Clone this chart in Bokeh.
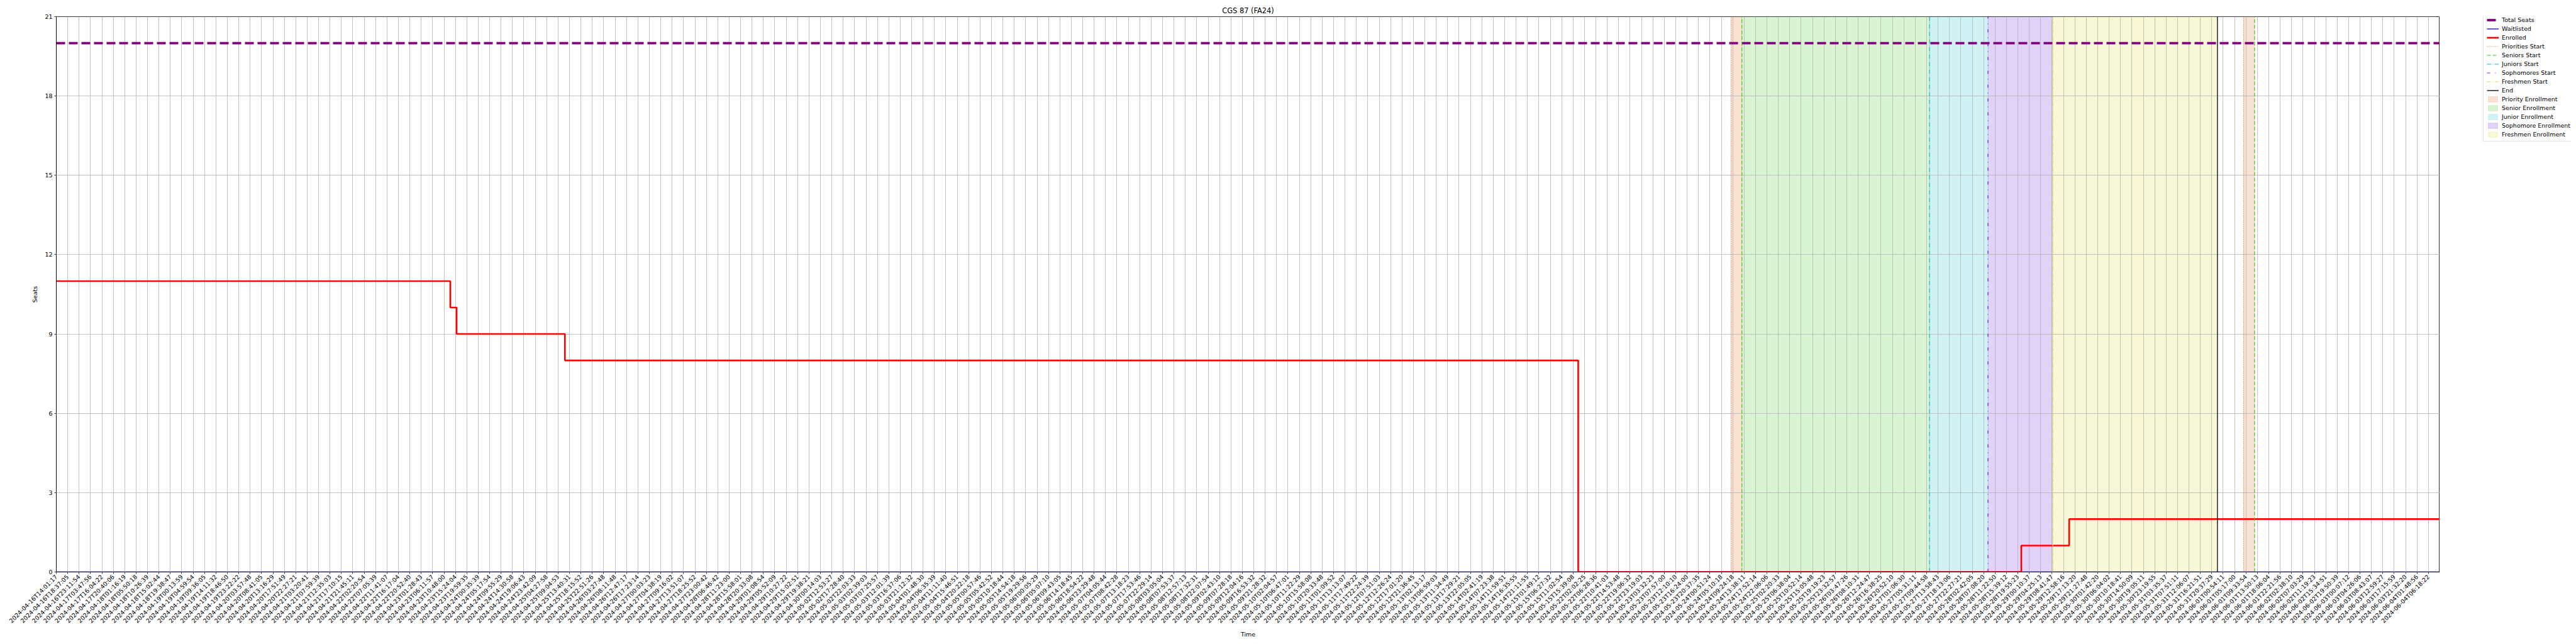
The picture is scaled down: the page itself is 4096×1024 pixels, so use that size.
import math
from bokeh.plotting import figure
from bokeh.layouts import row
from bokeh.models import Range1d, FixedTicker, Legend, LegendItem
from bokeh.embed import file_html
from bokeh.resources import INLINE

TITLE = "CGS 87 (FA24)"

TIME_LABELS = [
    "2024-04-16T14:01:17", "2024-04-16T18:37:05", "2024-04-16T23:11:54", "2024-04-17T03:47:56",
    "2024-04-17T16:04:22", "2024-04-17T20:40:06", "2024-04-18T01:16:19", "2024-04-18T05:50:18",
    "2024-04-18T10:26:39", "2024-04-18T15:02:44", "2024-04-18T19:38:47", "2024-04-19T00:13:59",
    "2024-04-19T04:59:54", "2024-04-19T09:36:05", "2024-04-19T14:11:32", "2024-04-19T18:46:50",
    "2024-04-19T23:22:22", "2024-04-20T03:57:48", "2024-04-20T08:41:05", "2024-04-20T13:16:29",
    "2024-04-20T17:51:49", "2024-04-20T22:27:21", "2024-04-21T03:20:41", "2024-04-21T07:59:39",
    "2024-04-21T12:35:03", "2024-04-21T17:10:15", "2024-04-21T21:45:11", "2024-04-22T02:20:54",
    "2024-04-22T07:05:39", "2024-04-22T11:41:07", "2024-04-22T16:17:04", "2024-04-22T20:52:40",
    "2024-04-23T01:28:43", "2024-04-23T06:11:57", "2024-04-23T10:48:00", "2024-04-23T15:24:04",
    "2024-04-23T19:59:35", "2024-04-24T00:35:39", "2024-04-24T05:17:54", "2024-04-24T09:55:29",
    "2024-04-24T14:30:58", "2024-04-24T19:06:43", "2024-04-24T23:42:09", "2024-04-25T04:27:58",
    "2024-04-25T09:04:53", "2024-04-25T13:40:31", "2024-04-25T18:15:52", "2024-04-25T22:51:26",
    "2024-04-26T03:27:48", "2024-04-26T08:11:48", "2024-04-26T12:47:17", "2024-04-26T17:23:14",
    "2024-04-27T00:03:23", "2024-04-27T04:38:19", "2024-04-27T09:16:02", "2024-04-27T13:51:07",
    "2024-04-27T18:25:52", "2024-04-27T23:00:42", "2024-04-28T06:46:42", "2024-04-28T11:23:00",
    "2024-04-28T15:58:01", "2024-04-28T20:33:08", "2024-04-29T01:08:54", "2024-04-29T05:52:09",
    "2024-04-29T10:27:22", "2024-04-29T15:02:51", "2024-04-29T19:38:21", "2024-04-30T00:14:03",
    "2024-05-02T12:53:27", "2024-05-02T17:28:40", "2024-05-02T22:03:33", "2024-05-03T02:39:03",
    "2024-05-03T07:25:57", "2024-05-03T12:01:39", "2024-05-03T16:37:06", "2024-05-03T21:12:32",
    "2024-05-04T01:48:30", "2024-05-04T06:35:39", "2024-05-04T11:11:40", "2024-05-04T15:46:51",
    "2024-05-04T20:22:18", "2024-05-05T00:57:46", "2024-05-05T05:42:52", "2024-05-05T10:18:44",
    "2024-05-05T14:54:18", "2024-05-05T19:29:56", "2024-05-06T00:05:29", "2024-05-06T05:07:10",
    "2024-05-06T09:43:05", "2024-05-06T14:18:45", "2024-05-06T18:54:22", "2024-05-06T23:29:48",
    "2024-05-07T04:05:44", "2024-05-07T08:42:28", "2024-05-07T13:18:23", "2024-05-07T17:53:46",
    "2024-05-07T22:29:14", "2024-05-08T03:05:04", "2024-05-08T07:53:37", "2024-05-08T12:57:13",
    "2024-05-08T17:32:31", "2024-05-08T22:07:54", "2024-05-09T02:43:10", "2024-05-09T07:28:18",
    "2024-05-09T12:04:16", "2024-05-09T16:53:32", "2024-05-09T21:28:32", "2024-05-10T02:04:57",
    "2024-05-10T06:47:01", "2024-05-10T11:22:29", "2024-05-10T15:58:08", "2024-05-10T20:33:48",
    "2024-05-11T01:09:52", "2024-05-11T13:13:07", "2024-05-11T17:49:22", "2024-05-11T22:24:39",
    "2024-05-12T07:51:03", "2024-05-12T12:26:24", "2024-05-12T17:01:20", "2024-05-12T21:36:45",
    "2024-05-13T02:13:17", "2024-05-13T06:59:03", "2024-05-13T11:34:49", "2024-05-13T17:29:21",
    "2024-05-13T22:05:05", "2024-05-14T02:41:19", "2024-05-14T07:23:38", "2024-05-14T11:59:51",
    "2024-05-14T16:35:55", "2024-05-14T21:11:55", "2024-05-15T01:49:12", "2024-05-15T06:27:32",
    "2024-05-15T11:02:54", "2024-05-15T15:39:08", "2024-05-22T02:02:25", "2024-05-22T06:28:36",
    "2024-05-22T10:41:03", "2024-05-22T14:53:48", "2024-05-22T19:06:32", "2024-05-22T23:19:03",
    "2024-05-23T03:32:23", "2024-05-23T07:57:00", "2024-05-23T12:10:10", "2024-05-23T16:24:00",
    "2024-05-23T20:37:35", "2024-05-24T00:51:24", "2024-05-24T05:10:18", "2024-05-24T09:24:18",
    "2024-05-24T13:38:11", "2024-05-24T17:52:14", "2024-05-24T22:06:06", "2024-05-25T02:20:33",
    "2024-05-25T06:38:04", "2024-05-25T10:52:14", "2024-05-25T15:05:48", "2024-05-25T19:19:23",
    "2024-05-25T23:32:57", "2024-05-26T03:47:26", "2024-05-26T08:10:31", "2024-05-26T12:24:47",
    "2024-05-26T16:38:25", "2024-05-26T20:52:10", "2024-05-27T01:06:30", "2024-05-27T05:31:11",
    "2024-05-27T09:44:58", "2024-05-27T13:58:43", "2024-05-27T18:13:06", "2024-05-27T22:27:21",
    "2024-05-28T02:42:05", "2024-05-28T07:08:20", "2024-05-28T11:22:50", "2024-05-28T15:39:12",
    "2024-05-28T19:55:23", "2024-05-29T00:10:37", "2024-05-29T04:25:13", "2024-05-29T08:41:47",
    "2024-05-29T12:58:16", "2024-05-29T17:13:20", "2024-05-29T21:27:48", "2024-05-30T01:42:20",
    "2024-05-30T06:04:02", "2024-05-30T10:18:41", "2024-05-30T14:50:09", "2024-05-30T19:05:11",
    "2024-05-30T23:19:55", "2024-05-31T03:35:37", "2024-05-31T07:51:11", "2024-05-31T12:06:07",
    "2024-05-31T16:21:51", "2024-05-31T20:37:29", "2024-06-01T00:54:11", "2024-06-01T05:17:00",
    "2024-06-01T09:33:54", "2024-06-01T13:50:13", "2024-06-01T18:06:04", "2024-06-01T22:21:56",
    "2024-06-02T02:38:10", "2024-06-02T07:03:29", "2024-06-02T11:19:23", "2024-06-02T15:34:51",
    "2024-06-02T19:50:39", "2024-06-03T00:07:12", "2024-06-03T04:26:06", "2024-06-03T08:43:07",
    "2024-06-03T12:59:27", "2024-06-03T17:15:59", "2024-06-03T21:32:20", "2024-06-04T01:48:56",
    "2024-06-04T06:18:22",
]

Y_TICKS = [0, 3, 6, 9, 12, 15, 18, 21]
X_END = 209.0          # last sample position (in label-index units)
TOTAL_SEATS = 20

# Enrolled: change points (label-index position, seats)
ENROLLED_X = [0.0, 34.55, 35.1, 44.6, 133.45, 172.3, 176.5, 209.0]
ENROLLED_Y = [11, 10, 9, 8, 0, 1, 2, 2]

WAITLIST_X = [0.0, 209.0]
WAITLIST_Y = [0, 0]

PRIORITY_STARTS = [146.85, 191.8]
SENIOR_STARTS = [147.8, 192.75]
JUNIOR_STARTS = [164.26]
SOPHOMORE_STARTS = [169.38]
FRESHMEN_STARTS = [175.06]
END_POSITIONS = [189.5]

PRIORITY_SPANS = [(PRIORITY_STARTS[0], SENIOR_STARTS[0]), (PRIORITY_STARTS[1], SENIOR_STARTS[1])]
SENIOR_SPANS = [(SENIOR_STARTS[0], JUNIOR_STARTS[0])]
JUNIOR_SPANS = [(JUNIOR_STARTS[0], SOPHOMORE_STARTS[0])]
SOPHOMORE_SPANS = [(SOPHOMORE_STARTS[0], FRESHMEN_STARTS[0])]
FRESHMEN_SPANS = [(FRESHMEN_STARTS[0], END_POSITIONS[0])]

LEGEND_LABELS = [
    "Total Seats", "Waitlisted", "Enrolled", "Priorities Start", "Seniors Start",
    "Juniors Start", "Sophomores Start", "Freshmen Start", "End",
    "Priority Enrollment", "Senior Enrollment", "Junior Enrollment",
    "Sophomore Enrollment", "Freshmen Enrollment",
]

C_PRIORITY = "#e0692a"
C_SENIOR = "#3ec81e"
C_JUNIOR = "#14bcc8"
C_SOPH = "#6a1fd8"
C_FRESH = "#dcdc30"

FONT = "DejaVu Sans"
Y_MAX = 21

# ---------------- main plot ----------------
p = figure(width=3879, height=1016,
           x_range=Range1d(0, X_END), y_range=Range1d(0, Y_MAX),
           output_backend="svg", toolbar_location=None, title=TITLE,
           min_border_left=89, min_border_right=0,
           min_border_top=26, min_border_bottom=103)

p.background_fill_color = "white"
p.border_fill_color = "white"
p.outline_line_color = "black"
p.outline_line_width = 0.8
p.outline_line_alpha = 1.0

p.title.align = "center"
p.title.text_font = FONT
p.title.text_font_size = "11.4px"
p.title.text_font_style = "normal"
p.title.text_color = "black"
p.title.standoff = 5

xt = FixedTicker(ticks=list(range(len(TIME_LABELS))))
yt = FixedTicker(ticks=Y_TICKS)
p.xaxis.ticker = xt
p.yaxis.ticker = yt
p.xgrid.ticker = xt
p.ygrid.ticker = yt
p.xaxis.major_label_overrides = {i: s for i, s in enumerate(TIME_LABELS)}
p.xaxis.major_label_orientation = math.pi / 4
p.xaxis.axis_label = "Time"
p.yaxis.axis_label = "Seats"

for ax in (p.xaxis[0], p.yaxis[0]):
    ax.major_label_text_font = FONT
    ax.major_label_text_font_size = "9.5px"
    ax.major_label_text_color = "black"
    ax.axis_label_text_font = FONT
    ax.axis_label_text_font_size = "9.5px"
    ax.axis_label_text_font_style = "normal"
    ax.axis_label_text_color = "black"
    ax.major_tick_out = 3
    ax.major_tick_in = 0
    ax.minor_tick_out = 0
    ax.minor_tick_in = 0
    ax.axis_line_width = 0.8
    ax.major_tick_line_width = 0.8
    ax.axis_line_color = "black"
    ax.major_tick_line_color = "black"
    ax.major_label_standoff = 3

p.xaxis.axis_label_standoff = 3
p.yaxis.axis_label_standoff = 7

p.grid.grid_line_color = "#b0b0b0"
p.grid.grid_line_width = 0.75


def spans(fig, pairs, color):
    return fig.quad(left=[a for a, b in pairs], right=[b for a, b in pairs],
                    bottom=[0] * len(pairs), top=[Y_MAX] * len(pairs),
                    fill_color=color, fill_alpha=0.2, line_color=color,
                    line_alpha=0.2, line_width=0.7, level="image")


def vlines(fig, xs, color, dash, width=1.2):
    return fig.segment(x0=xs, y0=[0] * len(xs), x1=xs, y1=[Y_MAX] * len(xs),
                       line_color=color, line_width=width, line_dash=dash)


def draw_all(fig, dummy=False):
    # dummy=True: same styles, data placed outside the visible range (legend swatches only)
    def d(v, alt):
        return alt if dummy else v
    rs = {}
    rs["Priority Enrollment"] = spans(fig, d(PRIORITY_SPANS, [(-5, -4)]), C_PRIORITY)
    rs["Senior Enrollment"] = spans(fig, d(SENIOR_SPANS, [(-5, -4)]), C_SENIOR)
    rs["Junior Enrollment"] = spans(fig, d(JUNIOR_SPANS, [(-5, -4)]), C_JUNIOR)
    rs["Sophomore Enrollment"] = spans(fig, d(SOPHOMORE_SPANS, [(-5, -4)]), C_SOPH)
    rs["Freshmen Enrollment"] = spans(fig, d(FRESHMEN_SPANS, [(-5, -4)]), C_FRESH)
    rs["Total Seats"] = fig.line(d([0, X_END], [-5, -4]), [TOTAL_SEATS, TOTAL_SEATS],
                                 line_color="#800080", line_width=3.8, line_dash="14 6")
    rs["Waitlisted"] = fig.line(d(WAITLIST_X, [-5, -4]), WAITLIST_Y,
                                line_color="#0000ff", line_width=1.3)
    rs["Enrolled"] = fig.step(d(ENROLLED_X, [-5, -4]), d(ENROLLED_Y, [0, 0]), mode="after",
                              line_color="#ff0000", line_width=2.6)
    rs["Priorities Start"] = vlines(fig, d(PRIORITY_STARTS, [-5]), C_PRIORITY, "1 2")
    rs["Seniors Start"] = vlines(fig, d(SENIOR_STARTS, [-5]), C_SENIOR, "6 3")
    rs["Juniors Start"] = vlines(fig, d(JUNIOR_STARTS, [-5]), C_JUNIOR, "7 2 1 2")
    rs["Sophomores Start"] = vlines(fig, d(SOPHOMORE_STARTS, [-5]), C_SOPH, "5 8 1 8")
    rs["Freshmen Start"] = vlines(fig, d(FRESHMEN_STARTS, [-5]), C_FRESH, "5 2 1 2 1 2")
    rs["End"] = vlines(fig, d(END_POSITIONS, [-5]), "black", "solid", 1.3)
    return rs


draw_all(p)

# ---------------- legend panel (frames of the row are aligned) ----------------
q = figure(width=209, height=1016, x_range=Range1d(0, 1), y_range=Range1d(0, 1),
           output_backend="svg", toolbar_location=None,
           x_axis_type=None, y_axis_type=None,
           min_border_left=0, min_border_right=0, min_border_top=0, min_border_bottom=0)
q.outline_line_color = None
q.grid.visible = False
q.background_fill_color = "white"
q.border_fill_color = "white"
lr = draw_all(q, dummy=True)

legend = Legend(items=[LegendItem(label=l, renderers=[lr[l]]) for l in LEGEND_LABELS],
                location=(69, 684))
legend.label_text_font = FONT
legend.label_text_font_size = "9.5px"
legend.label_text_color = "black"
legend.glyph_width = 19
legend.glyph_height = 11
legend.label_height = 11
legend.label_standoff = 5
legend.spacing = 3
legend.padding = 5
legend.margin = 0
legend.border_line_color = "#cccccc"
legend.border_line_width = 0.8
legend.background_fill_color = "white"
legend.background_fill_alpha = 0.8
q.add_layout(legend)

layout = row(p, q, spacing=0)
open("out.html", "w").write(file_html(layout, INLINE))
